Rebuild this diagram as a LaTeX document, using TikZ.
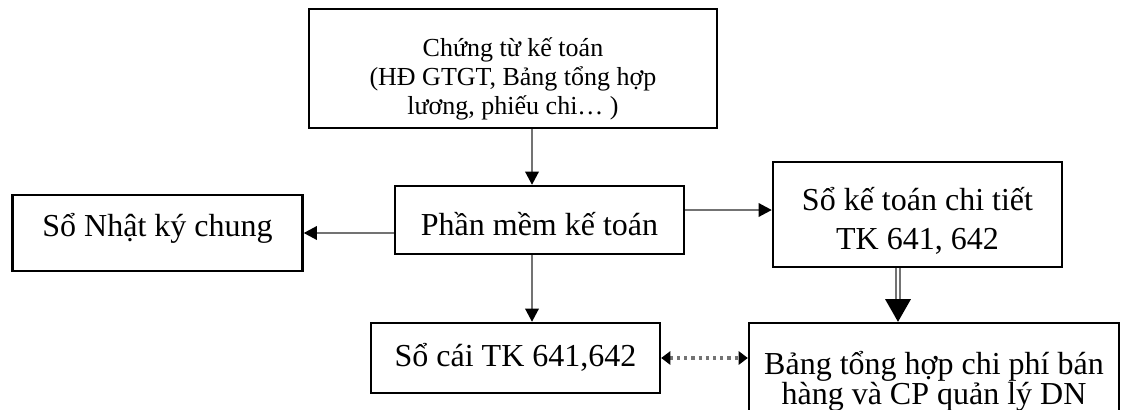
\documentclass[tikz,border=0pt]{standalone}
\usepackage{fontspec}
\setmainfont{Liberation Serif}
\usetikzlibrary{arrows.meta, positioning}
\setlength{\lineskiplimit}{-\maxdimen}

\tikzset{
  khung/.style={draw, line width=1.7pt, inner sep=0pt, align=center,
    font=\fontsize{24pt}{29pt}\selectfont},
  muiten/.style={draw=black!55, line width=2pt,
    -{Triangle[length=10pt,width=10pt,color=black]}},
}

\begin{document}
\begin{tikzpicture}[x=0.75pt, y=-0.75pt]
\useasboundingbox (0,0) rectangle (1121,410);
% Các ô
\node[khung, minimum width=306pt, minimum height=89.25pt,
  font=\fontsize{19.5pt}{21.75pt}\selectfont,
  text height=74.25pt, text depth=6pt] (ct) at (513,68.5)
  {Chứng từ kế toán\\ (HĐ GTGT, Bảng tổng hợp\\lương, phiếu chi… )};
\node[khung, minimum width=216.75pt, minimum height=51pt,
  text height=28.5pt, text depth=6pt] (pm) at (539.5,220) {Phần mềm kế toán};
\node[khung, minimum width=217.5pt, minimum height=57pt,
  text height=10.5pt, text depth=6pt] (nk) at (157.5,233) {Sổ Nhật ký chung};
\node[khung, minimum width=216.75pt, minimum height=78.75pt,
  font=\fontsize{24pt}{29.25pt}\selectfont,
  text height=57.75pt, text depth=6pt] (ctiet) at (917.5,214.5)
  {Sổ kế toán chi tiết\\TK 641, 642};
\node[khung, minimum width=216.75pt, minimum height=52.5pt,
  text height=19pt, text depth=6pt] (sc) at (515.5,358) {Sổ cái TK 641,642};
\node[khung, minimum width=277.5pt, minimum height=82.5pt,
  font=\fontsize{24pt}{22.5pt}\selectfont,
  text height=45pt, text depth=6pt] (bth) at (934,378)
  {Bảng tổng hợp chi phí bán\\hàng và CP quản lý DN};
% Đường nối
\coordinate (ax) at (532,0);
\coordinate (ay) at (0,210);
\coordinate (bx) at (898,0);
\draw[muiten] (ct.south -| ax) -- (pm.north -| ax);
\draw[muiten] (pm.south -| ax) -- (sc.north -| ax);
\draw[muiten] (pm.west |- nk) -- (nk.east);
\draw[muiten] (pm.east |- ay) -- (ctiet.west |- ay);
\draw[draw=black!55, line width=1.5pt, double=white, double distance=2pt,
  -{Triangle[length=17pt,width=19pt,color=black]}] (ctiet.south -| bx) -- (bth.north -| bx);
\draw[draw=black!55, line width=2.4pt, dash pattern=on 2.4pt off 3pt,
  {Triangle[length=7pt,width=10pt,color=black]}-{Triangle[length=7pt,width=10pt,color=black]}]
  (sc.east) -- (bth.west |- sc);
\end{tikzpicture}
\end{document}
